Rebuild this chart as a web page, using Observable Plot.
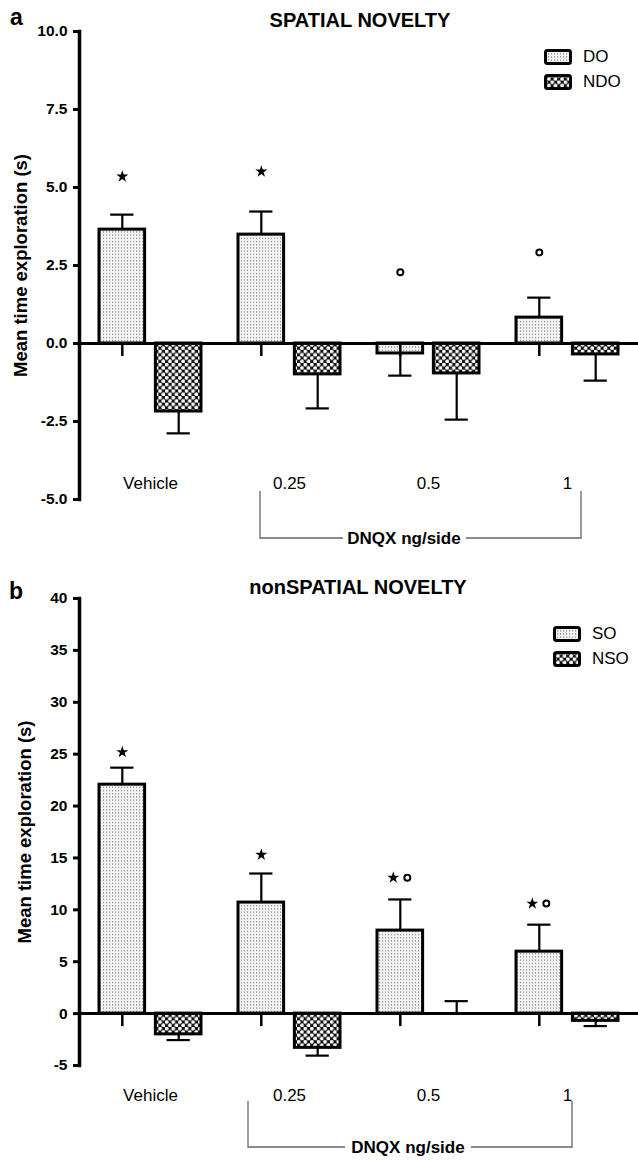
<!DOCTYPE html>
<html><head><meta charset="utf-8">
<script src="https://cdn.jsdelivr.net/npm/d3@7"></script>
<script src="https://cdn.jsdelivr.net/npm/@observablehq/plot@0.6"></script>
<style>
body{margin:0;background:#fff;}
#page{position:relative;width:638px;height:1161px;overflow:hidden;font-family:"Liberation Sans",Arial,Helvetica,sans-serif;color:#000;background:#fff;}
.abs{position:absolute;white-space:nowrap;line-height:1;}
.c{transform:translate(-50%,-50%);}
.title{font-weight:bold;font-size:20px;}
.letter{font-weight:bold;font-size:23px;}
.leg{position:absolute;display:flex;align-items:center;font-size:17px;}
.leg svg{margin-right:11px;}
#top,#bottom{position:absolute;left:0;}
#top{top:0;} #bottom{top:565px;}
#overlay{position:absolute;left:0;top:0;pointer-events:none;}
</style></head>
<body>
<svg width="0" height="0" style="position:absolute">
  <defs>
    <pattern id="dots" patternUnits="userSpaceOnUse" width="3" height="3.2">
      <rect width="3" height="3.2" fill="#f4f4f4"/>
      <rect x="1" y="1" width="1.1" height="1.1" fill="#777"/>
    </pattern>
    <pattern id="checks" patternUnits="userSpaceOnUse" width="6.6" height="6.6">
      <rect width="6.6" height="6.6" fill="#111"/>
      <circle cx="1.65" cy="1.65" r="1.9" fill="#fff"/>
      <circle cx="4.95" cy="4.95" r="1.9" fill="#fff"/>
    </pattern>
  </defs>
</svg>
<div id="page">
  <div id="top"></div>
  <div id="bottom"></div>
  <div class="abs letter" style="left:10px;top:6px;">a</div>
  <div class="abs title c" style="left:360px;top:20px;">SPATIAL NOVELTY</div>
  <div class="abs letter" style="left:9px;top:580px;">b</div>
  <div class="abs title c" style="left:358px;top:587px;">nonSPATIAL NOVELTY</div>
  <div id="leg1"></div>
  <div id="leg2"></div>
  <svg id="overlay" width="638" height="1161"></svg>
</div>
<script>
// ---------- data ----------
const doses = ["Vehicle", "0.25", "0.5", "1"];
const bracketLabel = "DNQX ng/side";
const yLabel = "Mean time exploration (s)";

// Panel a: spatial novelty
const spatialTitle = "SPATIAL NOVELTY";
const spatialSeries = ["DO", "NDO"];
const spatialDO = [3.65, 3.49, -0.32, 0.83];
const spatialDOsem = [0.48, 0.74, 0.71, 0.64];
const spatialNDO = [-2.18, -0.99, -0.96, -0.35];
const spatialNDOsem = [0.70, 1.09, 1.48, 0.84];
const spatialStars = [5.35, 5.51, null, null];
const spatialCircles = [null, null, 2.28, 2.92];
const spatialTicks = [-5, -2.5, 0, 2.5, 5, 7.5, 10];

// Panel b: non-spatial novelty
const nonSpatialTitle = "nonSPATIAL NOVELTY";
const nonSpatialSeries = ["SO", "NSO"];
const nonSpatialSO = [22.06, 10.7, 8.0, 5.97];
const nonSpatialSOsem = [1.64, 2.8, 3.0, 2.6];
const nonSpatialNSO = [-2.0, -3.3, 0, -0.7];
const nonSpatialNSOsem = [0.55, 0.75, 1.2, 0.5];
const nonSpatialStars = [25.2, 15.3, 13.1, 10.6];
const nonSpatialCircles = [null, null, 13.1, 10.6];
const nonSpatialTicks = [-5, 0, 5, 10, 15, 20, 25, 30, 35, 40];

// ---------- drawing ----------
const W = 638, ML = 79, MR = 0;
const pin = 0.263, pout = 0.136;
const step = (W - ML - MR) / (doses.length - pin + 2 * pout);
const bw = step * (1 - pin);
const gap = 10;
const barW = (bw - gap) / 2;
const off = bw / 2 - barW / 2;
const capHalf = 12;

function panel(cfg) {
  const rows = [];
  doses.forEach((d, i) => {
    rows.push({dose: d, s: 0, value: cfg.a[i], sem: cfg.aSem[i]});
    rows.push({dose: d, s: 1, value: cfg.b[i], sem: cfg.bSem[i]});
  });
  rows.forEach(r => r.err = r.value + (r.value >= 0 ? 1 : -1) * r.sem);
  const A = rows.filter(r => r.s === 0), B = rows.filter(r => r.s === 1);
  const marks = doses.map((d, i) => ({dose: d, star: cfg.stars[i], circle: cfg.circles[i]}));
  const starAlone = marks.filter(m => m.star != null && m.circle == null);
  const starPair = marks.filter(m => m.star != null && m.circle != null);
  const circAlone = marks.filter(m => m.circle != null && m.star == null);
  const circPair = marks.filter(m => m.circle != null && m.star != null);
  return Plot.plot({
    width: W, height: cfg.height,
    marginLeft: ML, marginRight: MR, marginTop: cfg.mt, marginBottom: cfg.mb,
    style: {fontFamily: '"Liberation Sans", Arial, Helvetica, sans-serif', color: "black", background: "transparent", overflow: "visible"},
    x: {type: "band", domain: doses, paddingInner: pin, paddingOuter: pout, axis: null},
    y: {domain: cfg.domain, label: null},
    marks: [
      Plot.ruleX(A, {x: "dose", y1: "value", y2: "err", dx: -off, strokeWidth: 2.2}),
      Plot.ruleX(B, {x: "dose", y1: "value", y2: "err", dx: off, strokeWidth: 2.2}),
      Plot.tickY(A, {x: "dose", y: "err", insetLeft: barW / 2 - capHalf, insetRight: bw - barW / 2 - capHalf, strokeWidth: 2.2}),
      Plot.tickY(B, {x: "dose", y: "err", insetLeft: bw - barW / 2 - capHalf, insetRight: barW / 2 - capHalf, strokeWidth: 2.2}),
      Plot.barY(A, {x: "dose", y1: 0, y2: "value", fill: "url(#dots)", stroke: "black", strokeWidth: 3, insetRight: bw - barW}),
      Plot.barY(B, {x: "dose", y1: 0, y2: "value", fill: "url(#checks)", stroke: "black", strokeWidth: 3, insetLeft: bw - barW}),
      Plot.ruleY([0], {strokeWidth: 3}),
      Plot.ruleX(doses, {x: d => d, y1: 0, y2: 0, dx: -off, insetBottom: -13, strokeWidth: 2.5}),
      Plot.frame({anchor: "left", strokeWidth: 3.5}),
      Plot.axisY(cfg.ticks, {tickSize: 6, tickPadding: 6, strokeWidth: 3, fontSize: 15.5, fontWeight: "bold", tickFormat: cfg.fmt, label: null}),
      Plot.text([yLabel], {frameAnchor: "left", textAnchor: "middle", lineAnchor: "middle", rotate: -90, dx: cfg.ylabelDx, fontSize: 18.5, fontWeight: "bold"}),
      Plot.text(doses, {x: d => d, frameAnchor: "bottom", dy: cfg.labelDy, fontSize: 17}),
      Plot.dot(starAlone, {x: "dose", y: "star", symbol: "star", r: 3.8, fill: "black", stroke: "none", dx: -off}),
      Plot.dot(starPair, {x: "dose", y: "star", symbol: "star", r: 3.8, fill: "black", stroke: "none", dx: -off - 7}),
      Plot.dot(circAlone, {x: "dose", y: "circle", r: 3, fill: "white", stroke: "black", strokeWidth: 2, dx: -off}),
      Plot.dot(circPair, {x: "dose", y: "circle", r: 3, fill: "white", stroke: "black", strokeWidth: 2, dx: -off + 7})
    ]
  });
}

document.getElementById("top").appendChild(panel({
  a: spatialDO, aSem: spatialDOsem, b: spatialNDO, bSem: spatialNDOsem,
  stars: spatialStars, circles: spatialCircles, ticks: spatialTicks,
  domain: [-5, 10], fmt: d => d.toFixed(1),
  height: 555, mt: 31, mb: 56, labelDy: -11, ylabelDx: -58
}));
document.getElementById("bottom").appendChild(panel({
  a: nonSpatialSO, aSem: nonSpatialSOsem, b: nonSpatialNSO, bSem: nonSpatialNSOsem,
  stars: nonSpatialStars, circles: nonSpatialCircles, ticks: nonSpatialTicks,
  domain: [-5, 40], fmt: d => String(d),
  height: 596, mt: 33, mb: 96, labelDy: 35, ylabelDx: -54
}));

// legends
function legend(id, names, left, top) {
  const el = document.getElementById(id);
  const fills = ["url(#dots)", "url(#checks)"];
  names.forEach((n, i) => {
    const row = document.createElement("div");
    row.className = "leg";
    row.style.left = left + "px";
    row.style.top = (top + i * 25) + "px";
    row.innerHTML = `<svg width="28" height="16"><rect x="1.5" y="1.5" width="25" height="13" rx="2" fill="${fills[i]}" stroke="black" stroke-width="3"/></svg><span>${n}</span>`;
    el.appendChild(row);
  });
}
legend("leg1", spatialSeries, 544, 47);
legend("leg2", nonSpatialSeries, 553, 624);

// brackets under the dose labels
const ov = d3.select("#overlay");
function bracket(x0, x1, yTop, yLine, textX, t0, t1) {
  ov.append("path").attr("d", `M${x0},${yTop}V${yLine}H${t0}M${t1},${yLine}H${x1}V${yTop}`)
    .attr("fill", "none").attr("stroke", "#666").attr("stroke-width", 1.3);
  ov.append("text").attr("x", textX).attr("y", yLine).attr("dy", "0.35em").attr("text-anchor", "middle")
    .attr("font-family", '"Liberation Sans", Arial, sans-serif').attr("font-weight", "bold").attr("font-size", 17)
    .text(bracketLabel);
}
bracket(260, 581, 491, 538, 404, 343, 466);
bracket(248, 572, 1101, 1147, 408, 345, 471);
</script>
</body></html>
